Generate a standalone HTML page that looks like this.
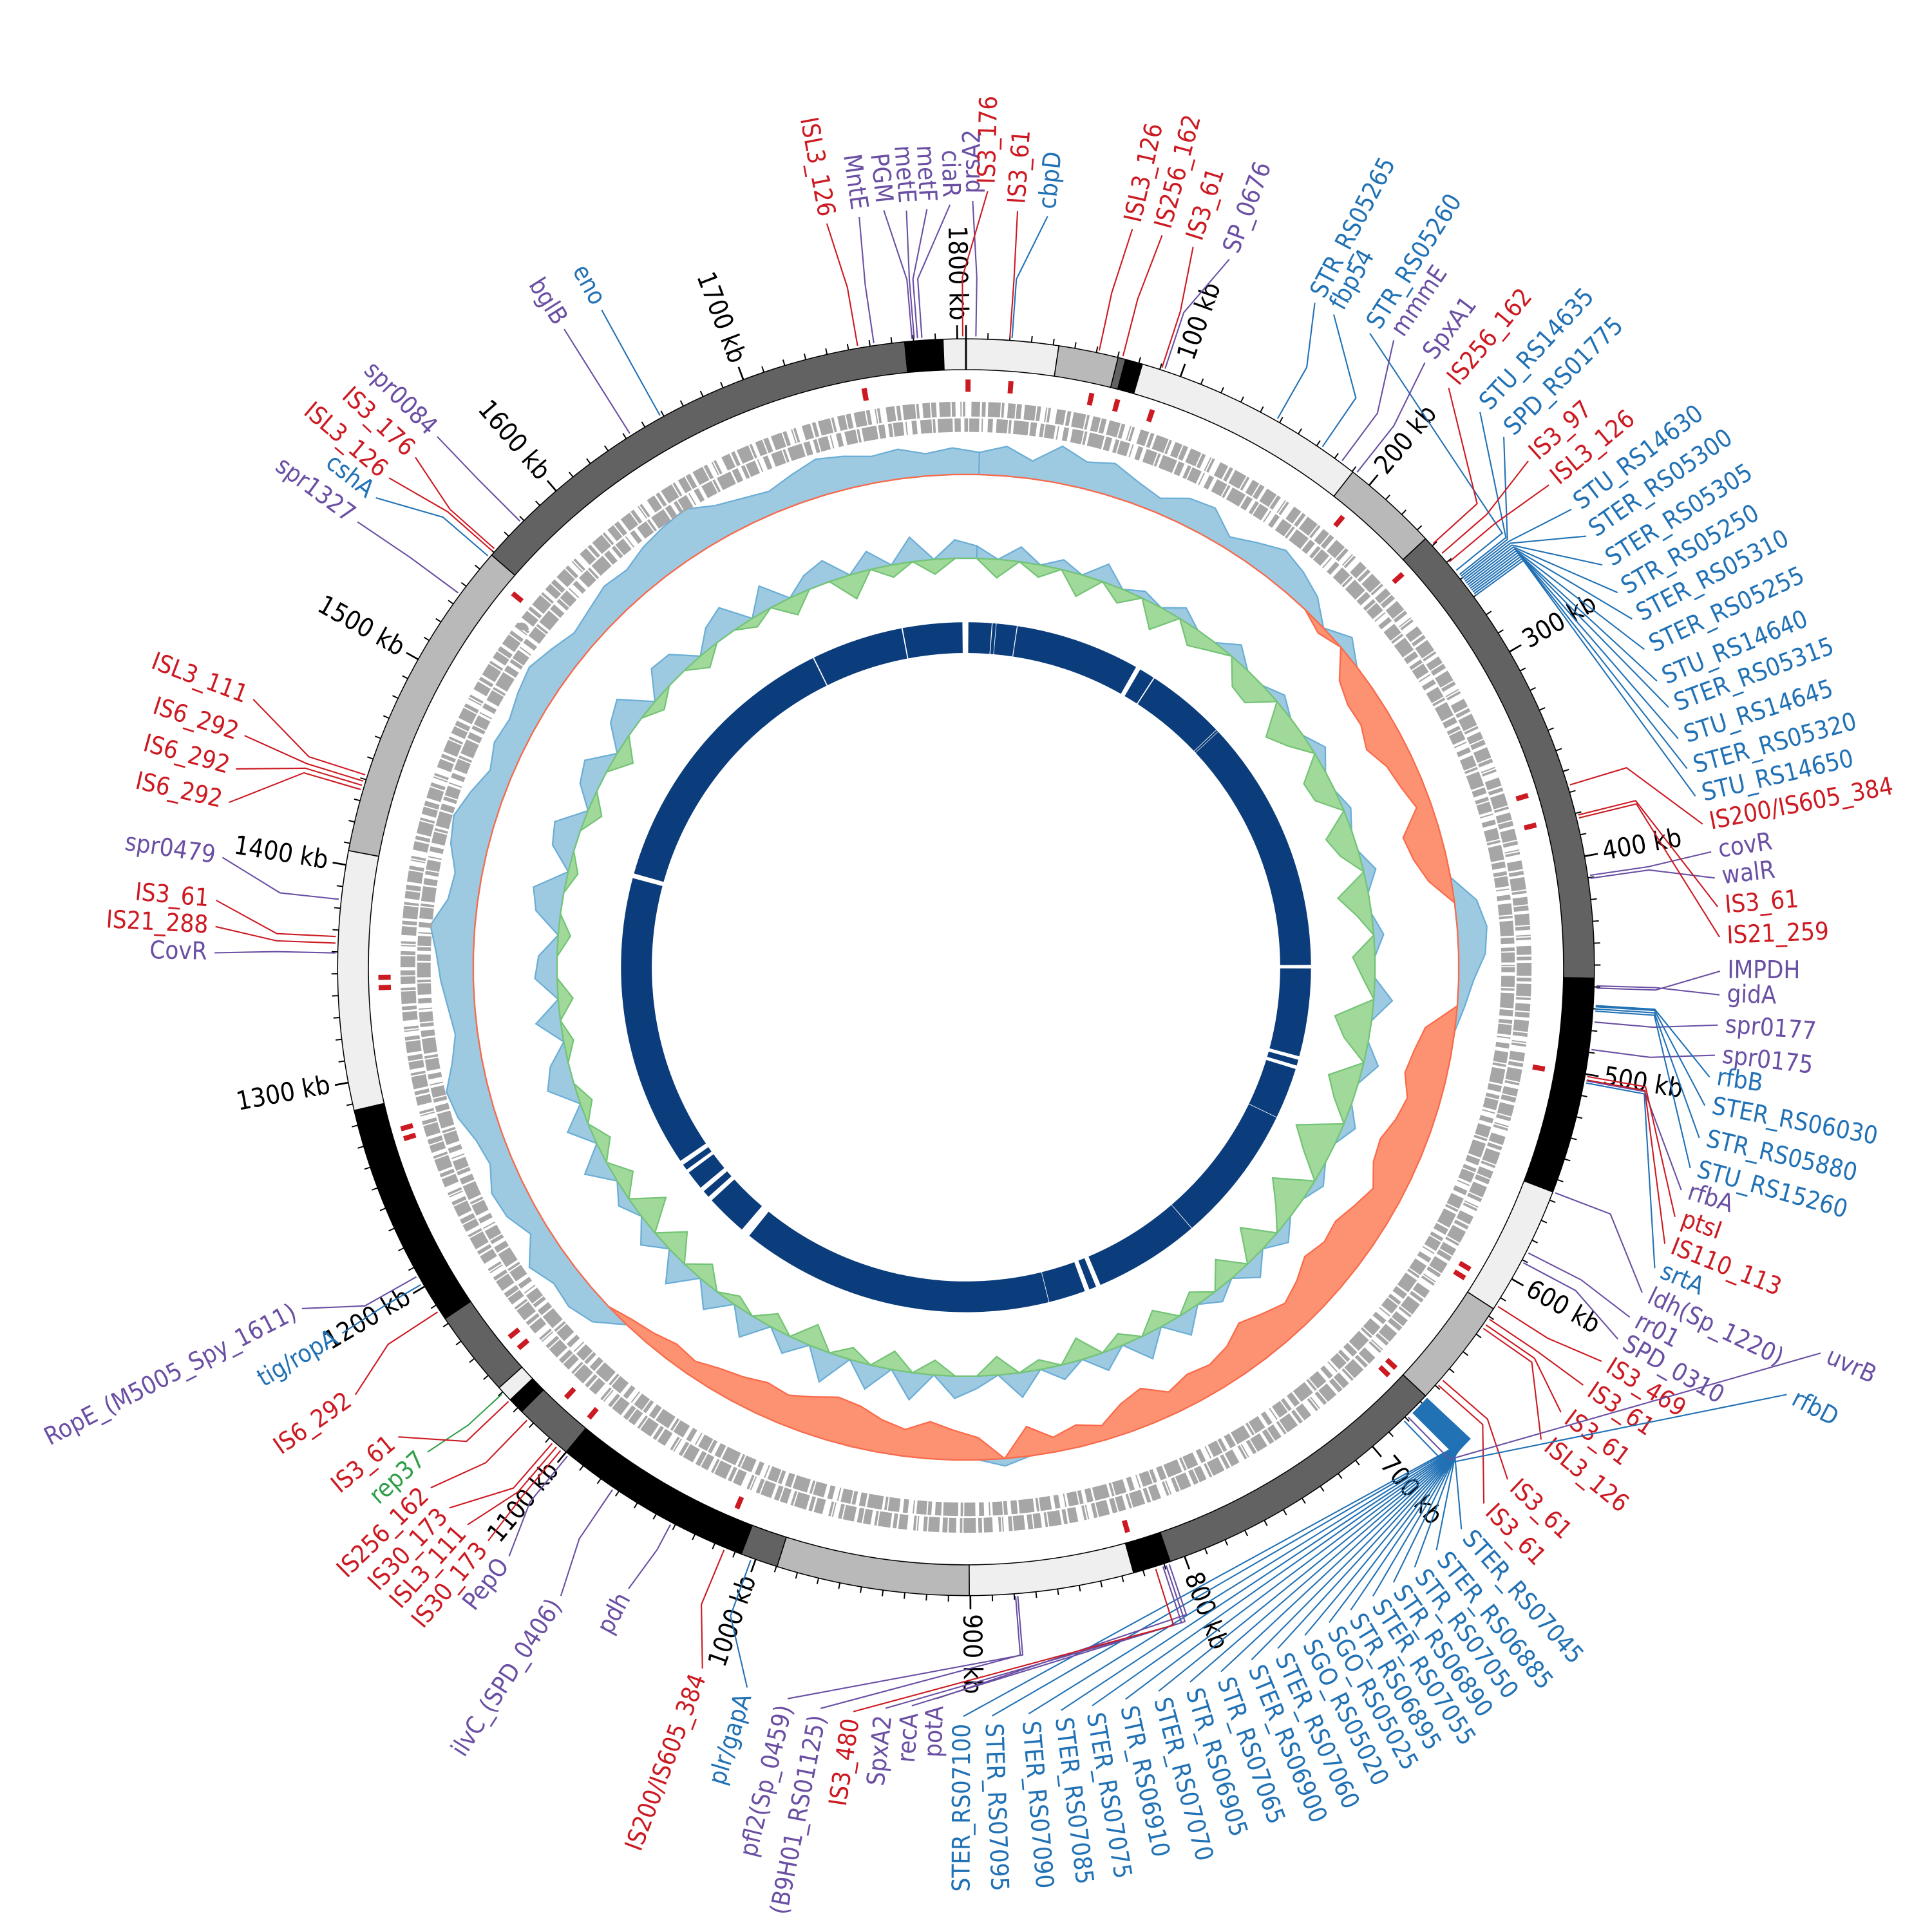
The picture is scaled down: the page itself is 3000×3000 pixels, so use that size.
<!DOCTYPE html>
<html><head><meta charset="utf-8"><title>Circular genome map</title>
<style>
html,body{margin:0;padding:0;background:#fff;}
svg{display:block;}
text{font-family:"DejaVu Sans Condensed","DejaVu Sans","Liberation Sans",sans-serif;}
</style></head>
<body>
<svg id="chart" xmlns="http://www.w3.org/2000/svg" width="3000" height="3000" viewBox="0 0 1568 1568">
<rect width="1568" height="1568" fill="#fff"/>
</svg>
<script>
// ---------- data ----------
const genomeKb = 1804;
const ideoStart = [0,42.6,70.2,73.7,81.7,190.4,235.5,456,556,616,666.5,807,824.5,900.5,989.7,1007,1100,1127.5,1135,1142.5,1182.6,1287,1406.6,1558.4,1775.9,1793.5];
const ideoEnd   = [42.6,70.2,73.7,81.7,190.4,235.5,456,556,616,666.5,807,824.5,900.5,989.7,1007,1100,1127.5,1135,1142.5,1182.6,1287,1406.6,1558.4,1775.9,1793.5,1804];
const ideoShade = ["L","M","D","B","L","M","D","B","L","M","D","B","L","M","D","B","D","B","L","D","B","L","M","D","B","L"];
const tickMajorKb = [100,200,300,400,500,600,700,800,900,1000,1100,1200,1300,1400,1500,1600,1700,1800];
const isMarksKb = [1753.9,1,22,62,75,92.7,200,240.5,365.8,380.8,501,606,611,666.5,671.5,822,1017,1102,1117,1150.5,1157.5,1268,1273,1343,1348,1551,1754];
const ringGapStart = [0,1801,21.5,25,42.5,148,165,233,235,449,526,534,580,697,787,797,832,1097,1140,1150,1170,1178,1428,1672,1750];
const ringGapEnd   = [2,1804,22.2,25.5,43.2,152,166,233.5,235.4,452,529,537,580.5,697.5,791,801,832.5,1105,1144,1154,1173,1182,1432,1673,1751];
const gcValues = [15,20,12,25,18,22,15,10,18,20,8,15,22,18,12,
 -5,10,-15,-20,
 -20,-25,-18,-15,-10,-25,-22,-15,
 15,20,18,10,5,
 -20,-25,-28,-22,-25,-30,-28,-20,-25,-30,-28,-32,-25,-20,-25,-30,-22,-18,-20,-15,-25,-20,-10,
 -15,-10,-20,5,-15,
 -20,-25,-18,-22,-28,-30,-25,-20,-22,-18,-15,-10,-12,-8,-5,
 15,20,18,25,12,20,22,15,18,25,28,20,15,18,22,25,30,20,18,25,28,22,15,20,18,22,25,20,15,18,22,20,25,28,30,22,18,15,20,25,22,18,20,15,18];
const skewValues = [10,-15,12,-10,8,-18,15,-12,6,-20,10,-15,-8,12,-18,
 -20,8,-25,-15,10,-20,-18,6,-22,-15,10,-25,-12,8,-18,
 -10,15,-30,-20,12,-25,-15,10,-35,-20,8,-30,-15,12,-25,
 15,-20,10,-12,18,-15,20,-10,15,-18,12,-8,20,-15,10,
 18,-12,22,-15,20,-10,25,-18,15,-12,20,-8,18,-15,22,
 -20,15,-25,10,-15,20,-12,18,-10,22,15,-8,20,-12,18,
 15,-10,20,25,-8,18,22,-12,15,20,-15,18,25,-10,20,
 18,-12,15,22,-8,20,-15,12,18,-20,15,-10,20,-12,15];
const annNames = ["ISL3_126","MntE","PGM","metE","metF","ciaR","prsA2","IS3_176","IS3_61","cbpD","ISL3_126","IS256_162","IS3_61","SP_0676",
"STR_RS05265","fbp54","STR_RS05260","mmmE","SpxA1","IS256_162","STU_RS14635","SPD_RS01775","IS3_97","ISL3_126","STU_RS14630","STER_RS05300","STER_RS05305","STR_RS05250","STER_RS05310","STER_RS05255","STU_RS14640","STER_RS05315","STU_RS14645","STER_RS05320","STU_RS14650","IS200/IS605_384","covR","walR","IS3_61","IS21_259","IMPDH","gidA","spr0177","spr0175","rfbB","STER_RS06030","STR_RS05880","STU_RS15260","rfbA","ptsI","IS110_113","srtA","ldh(Sp_1220)","rr01","SPD_0310","IS3_469","IS3_61","IS3_61","ISL3_126","IS3_61","IS3_61",
"STER_RS07045","STER_RS06885","STR_RS07050","STR_RS06890","STER_RS07055","STR_RS06895","SGO_RS05025","SGO_RS05020","STER_RS07060","STER_RS06900","STR_RS07065","STR_RS06905","STER_RS07070","STR_RS06910","STER_RS07075","STER_RS07085","STER_RS07090","STER_RS07095","STER_RS07100","uvrB","rfbD",
"potA","recA","SpxA2","IS3_480","(B9H01_RS01125)","pfl2(Sp_0459)","plr/gapA","IS200/IS605_384","pdh","ilvC_(SPD_0406)","PepO","IS30_173","ISL3_111","IS30_173","IS256_162","rep37","IS3_61","IS6_292","tig/ropA","RopE_(M5005_Spy_1611)",
"CovR","IS21_288","IS3_61","spr0479","IS6_292","IS6_292","IS6_292","ISL3_111","spr1327","cshA","ISL3_126","IS3_176","spr0084","bglB","eno"];
const annColors = [
 "r","p","p","p","p","p","p","r","r","b","r","r","r","p",
 "b","b","b","p","p","r","b","b","r","r","b","b","b","b","b","b","b","b","b","b","b","r","p","p","r","r","p","p","p","p","b","b","b","b","p","r","r","b","p","p","p","r","r","r","r","r","r",
 "b","b","b","b","b","b","b","b","b","b","b","b","b","b","b","b","b","b","b","p","b",
 "p","p","p","r","p","p","b","r","p","p","p","r","r","r","r","g","r","r","b","p",
 "p","r","r","p","r","r","r","r","p","b","r","r","p","p","b"];
const annKb = [1754.4,1761.9,1779.4,1780.4,1781.9,1783.9,4.5,1802.5,20,21,61.1,72.2,90.7,92.2,
148.3,172.4,255.6,183.4,192,239.5,258,259,245.5,250.6,260,261,262,263,264,265,266,267,268,269,270,366.8,409,410.4,381,382.4,460.5,459.5,476,488.6,468.5,469,470,471,503,501,502.6,504,556,586,591,614,621,624,626,656,659,
676,675.5,675,674.5,674,673.5,673,672.5,672,671.5,671,670.5,670,669.5,669,668.5,668,667.5,667,679,681.5,
807.8,809.3,810.8,814.3,879.4,878.4,1002,1015,1042,1072.8,1098.4,1102.4,1104.9,1107.4,1123,1139.5,1135,1187,1201.6,1205.7,
1359.5,1364,1367,1384,1435,1437,1439,1442,1535.4,1557,1560,1561.4,1578.5,1642.6,1658.6];
// label layout (angle deg, radius px) - layout only
const annLayoutDeg = [349.4,351.9,353.8,355.5,357.05,358.8,0.5,1.6,3.9,6.2,12.7,15,17.5,20.4,
27.7,29.4,32.5,34.3,37.2,39.8,42.8,45.4,48,50.4,52.9,55.2,57.7,60.1,62.4,64.9,67.5,69.7,72.2,74.6,76.8,79,81.2,83.2,85.4,87.7,90.3,92.1,94.4,96.7,98.4,100.6,103.1,105.5,107.3,109.4,111.6,113.6,115.7,117.8,119.7,121.8,124.1,126.8,129.4,133.4,136,
138.6,141.1,143.2,145.2,147.1,149.1,151,153.1,155.4,157.6,160.1,162.6,165.1,167.7,170.3,172.7,175.2,178,180.2,114.3,117.5,
182.3,184.2,186.2,188.6,191.1,193.7,196.9,200.6,208.5,212.8,217.8,219.8,221.8,223.7,225.8,228,230.4,235,239.6,242.8,
271.1,273.1,275.1,278.4,282.6,285.2,287.8,290.6,306.2,308.5,310.3,312.8,315.1,327.8,331];
const annLayoutR = [620,621,624,622,622,625,628,636,621,619,620,621,619,619,
615,614,616,622,622,618,620,619,620,620,622,619,617,616,616,614,613,614,613,613,614,615,618,618,618,618,618,618,618,618,616,616,617,616,614,616,616,616,615,615,615,613,611,609,610,611,611,
614,614,614,614,614,614,614,614,614,614,614,614,614,614,614,614,614,614,614,767,757,
600,607,611,617,619,617,617,614,580,613,611,612,613,613,612,594,604,611,593,612,
616,616,617,616,619,620,621,624,618,618,620,615,614,618,616];

// ---------- geometry ----------
const NS="http://www.w3.org/2000/svg";
const svg=document.getElementById('chart');
const cx=784, cy=785;
const R_IDEO_OUT=510, R_IDEO_IN=485;
function kbToDeg(kb){return kb/genomeKb*360;}
function P(r,d){const a=d*Math.PI/180;return [cx+r*Math.sin(a), cy-r*Math.cos(a)];}
function annulus(r1,r2,d1,d2){
  const large=(d2-d1)>180?1:0;
  const a=P(r2,d1),b=P(r2,d2),c=P(r1,d2),e=P(r1,d1);
  return `M${a[0]},${a[1]}A${r2},${r2} 0 ${large} 1 ${b[0]},${b[1]}L${c[0]},${c[1]}A${r1},${r1} 0 ${large} 0 ${e[0]},${e[1]}Z`;
}
function mk(tag,attrs,parent){const el=document.createElementNS(NS,tag);for(const k in attrs)el.setAttribute(k,attrs[k]);(parent||svg).appendChild(el);return el;}
const colorMap={r:"#cc1a22",p:"#6a4fa3",b:"#2171b5",g:"#2e9e48"};
const shadeMap={L:"#efefef",M:"#b9b9b9",D:"#626262",B:"#000000"};

// ---------- inner dark-blue ring ----------
const gRing=mk('g',{});


{
  const idx=ringGapStart.map((s,i)=>i).sort((a,b)=>ringGapStart[a]-ringGapStart[b]);
  let cur=0;
  idx.forEach(i=>{
    const s=ringGapStart[i], e=ringGapEnd[i];
    if(s>cur){
      const p=mk('path',{d:annulus(255,280,kbToDeg(cur),kbToDeg(s)),fill:"#0b3c7b"},gRing);
      
      
    }
    cur=Math.max(cur,e);
  });
  if(cur<genomeKb){
    const p=mk('path',{d:annulus(255,280,kbToDeg(cur),360),fill:"#0b3c7b"},gRing);
    
    
  }
}

// ---------- area tracks ----------
function areaTrack(vals,base,scale,posFill,posStroke,negFill,negStroke,name){
  const g=mk('g',{});
  
  
  const n=vals.length, step=360/n;
  [[1,posFill,posStroke],[-1,negFill,negStroke]].forEach(([sgn,f,s])=>{
    let d="", back=[];
    for(let i=0;i<=n;i++){
      const v=vals[i%n]; const vv=sgn>0?Math.max(v,0):Math.min(v,0);
      const ang=i*step+step/2;
      const pt=P(base+vv*scale,ang);
      d+=(i?"L":"M")+pt[0].toFixed(2)+","+pt[1].toFixed(2);
      back.push(P(base,ang));
    }
    for(let i=back.length-1;i>=0;i--){d+="L"+back[i][0].toFixed(2)+","+back[i][1].toFixed(2);}
    d+="Z";
    const p=mk('path',{d:d,fill:f,stroke:s,'stroke-width':1.2},g);
    
    
  });
}
areaTrack(gcValues,400,1.2,"#9ecae1","#6baed6","#fc9272","#fb6a4a",'gc-content-track');
areaTrack(skewValues,332,1.0,"#9ecae1","#6baed6","#a1d99b","#74c476",'gc-skew-track');

// ---------- gene rows (decorative density) ----------
const gGenes=mk('g',{});


const c1=mk('circle',{cx:cx,cy:cy,r:453,fill:"none",stroke:"#a6a6a6","stroke-width":12,"stroke-dasharray":"7 1.5 3 2 10 1 2 3 6 1 4 2.5 9 1 3 4 1 1 2 5"},gGenes);


const c2=mk('circle',{cx:cx,cy:cy,r:440,fill:"none",stroke:"#a6a6a6","stroke-width":11,"stroke-dasharray":"4 3 9 1 2 2 12 1.5 5 3 3 1 8 2 1 4"},gGenes);



// ---------- IS marks ----------
const gIS=mk('g',{});


isMarksKb.forEach(k=>{
  const d=kbToDeg(k);
  const p=mk('path',{d:annulus(467,477,d-0.25,d+0.25),fill:"#cc1a22"},gIS);
  
  
});

// ---------- ideogram ----------
const gIdeo=mk('g',{});


ideoStart.forEach((s,i)=>{
  const p=mk('path',{d:annulus(R_IDEO_IN,R_IDEO_OUT,kbToDeg(s),kbToDeg(ideoEnd[i])),fill:shadeMap[ideoShade[i]],stroke:"#000","stroke-width":0.8},gIdeo);
  
  
});
{
  const a=P(R_IDEO_IN,0),b=P(R_IDEO_OUT,0);
  const l=mk('line',{x1:a[0],y1:a[1],x2:b[0],y2:b[1],stroke:"#000","stroke-width":1.5},gIdeo);
  
  
}

// ---------- ticks ----------
const gTicks=mk('g',{});


for(let k=0;k<=genomeKb;k+=10){
  const d=kbToDeg(k), major=(k%100===0);
  const a=P(R_IDEO_OUT,d), b=P(R_IDEO_OUT+(major?11:5),d);
  const l=mk('line',{x1:a[0],y1:a[1],x2:b[0],y2:b[1],stroke:"#000","stroke-width":major?1.4:1},gTicks);
  
  
}
function placeText(r,d,str,color,size,g){
  d=((d%360)+360)%360;
  const p=P(r,d);
  const right=d>0.05&&d<180.1;
  const rot=right?d-90:d+90;
  const t=mk('text',{x:p[0],y:p[1],fill:color,"font-size":size,"text-anchor":right?"start":"end","dominant-baseline":"middle",transform:`rotate(${rot} ${p[0]} ${p[1]})`},g);
  t.textContent=str;
  return t;
}
tickMajorKb.forEach(k=>{
  const t=placeText(525,kbToDeg(k),k+" kb","#000",21,gTicks);
  
  
});

// ---------- annotation labels ----------
const gAnn=mk('g',{});


annNames.forEach((nm,i)=>{
  const col=colorMap[annColors[i]]||"#6a4fa3";
  const ad=kbToDeg(annKb[i]);
  const ld=annLayoutDeg[i], lr=annLayoutR[i];
  const kinkR=Math.min(lr-45,560);
  const p0=P(R_IDEO_OUT+2,ad), p1=P(kinkR,ad), p2=P(lr-6,ld);
  const pl=mk('polyline',{points:`${p0[0]},${p0[1]} ${p1[0]},${p1[1]} ${p2[0]},${p2[1]}`,fill:"none",stroke:col,"stroke-width":1.1},gAnn);
  
  
  const t=placeText(lr,ld,nm,col,20,gAnn);
  
  
});
</script>
</body></html>
